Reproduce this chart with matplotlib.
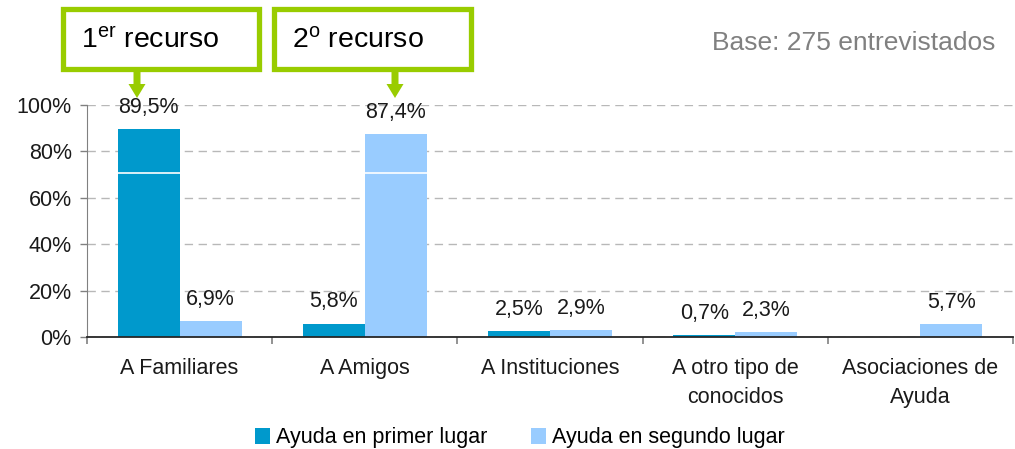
import matplotlib
matplotlib.use("Agg")
import matplotlib.pyplot as plt
import numpy as np
from matplotlib.patches import Rectangle, FancyArrow

plt.rcParams['font.family'] = ['Liberation Sans', 'DejaVu Sans']
plt.rcParams['mathtext.fontset'] = 'custom'
plt.rcParams['mathtext.rm'] = 'Liberation Sans'
plt.rcParams['mathtext.it'] = 'Liberation Sans'

categories = ["A Familiares", "A Amigos", "A Instituciones", "A otro tipo de\nconocidos", "Asociaciones de\nAyuda"]
primer = [89.5, 5.8, 2.5, 0.7, 0.0]
segundo = [6.9, 87.4, 2.9, 2.3, 5.7]
primer_labels = ["89,5%", "5,8%", "2,5%", "0,7%", None]
segundo_labels = ["6,9%", "87,4%", "2,9%", "2,3%", "5,7%"]
yticks = [0, 20, 40, 60, 80, 100]
ytick_labels = ["0%", "20%", "40%", "60%", "80%", "100%"]
series_names = ["Ayuda en primer lugar", "Ayuda en segundo lugar"]

c1 = "#0099CC"
c2 = "#99CCFF"
green = "#99CC00"
FS = 15.5

W, H = 1015, 449
fig = plt.figure(figsize=(W / 100, H / 100), dpi=100)
ax = fig.add_axes([87 / W, 1 - 337 / H, (1013 - 87) / W, (337 - 105) / H])

x = np.arange(len(categories))
w = 0.335
b1 = ax.bar(x - w / 2, primer, w, color=c1, zorder=2, label=series_names[0])
b2 = ax.bar(x + w / 2, segundo, w, color=c2, zorder=2, label=series_names[1])
ax.axhline(70.5, color="white", lw=1.2, zorder=2.5)

for rect, lab in zip(b1, primer_labels):
    if lab:
        ax.annotate(lab, (rect.get_x() + rect.get_width() / 2, rect.get_height()),
                    xytext=(0, 8), textcoords="offset points", ha="center", va="bottom",
                    fontsize=FS, color="#1a1a1a")
for rect, lab in zip(b2, segundo_labels):
    if lab:
        ax.annotate(lab, (rect.get_x() + rect.get_width() / 2, rect.get_height()),
                    xytext=(0, 8), textcoords="offset points", ha="center", va="bottom",
                    fontsize=FS, color="#1a1a1a")

ax.set_xlim(-0.5, len(categories) - 0.5)
ax.set_ylim(0, 100)
ax.set_yticks(yticks)
ax.set_yticklabels(ytick_labels, fontsize=FS, color="#1a1a1a")
ax.yaxis.grid(True, color="#b8b8b8", linestyle=(0, (6, 4)), lw=1)
ax.set_axisbelow(True)

ax.set_xticks(x)
ax.set_xticklabels(categories, fontsize=FS, color="#1a1a1a", linespacing=1.5)
ax.tick_params(axis="x", length=0, pad=15)
ax.set_xticks(np.arange(len(categories) + 1) - 0.5, minor=True)
ax.tick_params(axis="x", which="minor", length=5, color="#808080", width=1.2)
ax.tick_params(axis="y", length=5, color="#808080", width=1, pad=6)

for s in ["top", "right"]:
    ax.spines[s].set_visible(False)
ax.spines["left"].set_color("#808080")
ax.spines["bottom"].set_color("#262626")
ax.spines["bottom"].set_linewidth(1.3)

leg = ax.legend(loc="center", bbox_to_anchor=((520 - 87) / 926, (337 - 438) / 232),
                ncol=2, frameon=False, fontsize=FS, handlelength=0.7, handleheight=0.7,
                handletextpad=0.3, columnspacing=2.0)

# Callout boxes
def px(xp, yp):
    return xp / W, 1 - yp / H

for (x0, x1, txt, ax_x) in [(60, 261, r"1$^{\mathrm{er}}$ recurso", 137),
                             (271, 473, r"2$^{\mathrm{o}}$ recurso", 395)]:
    fx0, fy1 = px(x0 + 2.5, 69)
    fx1, fy0 = px(x1 - 2.5, 9)
    fig.add_artist(Rectangle((fx0, fy1), fx1 - fx0, fy0 - fy1, transform=fig.transFigure,
                             facecolor="white", edgecolor=green, lw=3.8))
    tx, ty = px(x0 + 21, 41)
    fig.text(tx, ty, txt, fontsize=20.5, ha="left", va="center", color="black")
    ax_f, ay_f = px(ax_x, 71)
    fig.add_artist(FancyArrow(ax_f, ay_f, 0, -(98 - 71) / H, width=7 / W,
                              head_width=17 / W, head_length=14 / H,
                              length_includes_head=True, transform=fig.transFigure,
                              color=green, lw=0))

bx, by = px(995, 43)
fig.text(bx, by, "Base: 275 entrevistados", fontsize=19, ha="right", va="center", color="#808080")

fig.savefig("out.png", dpi=100)
